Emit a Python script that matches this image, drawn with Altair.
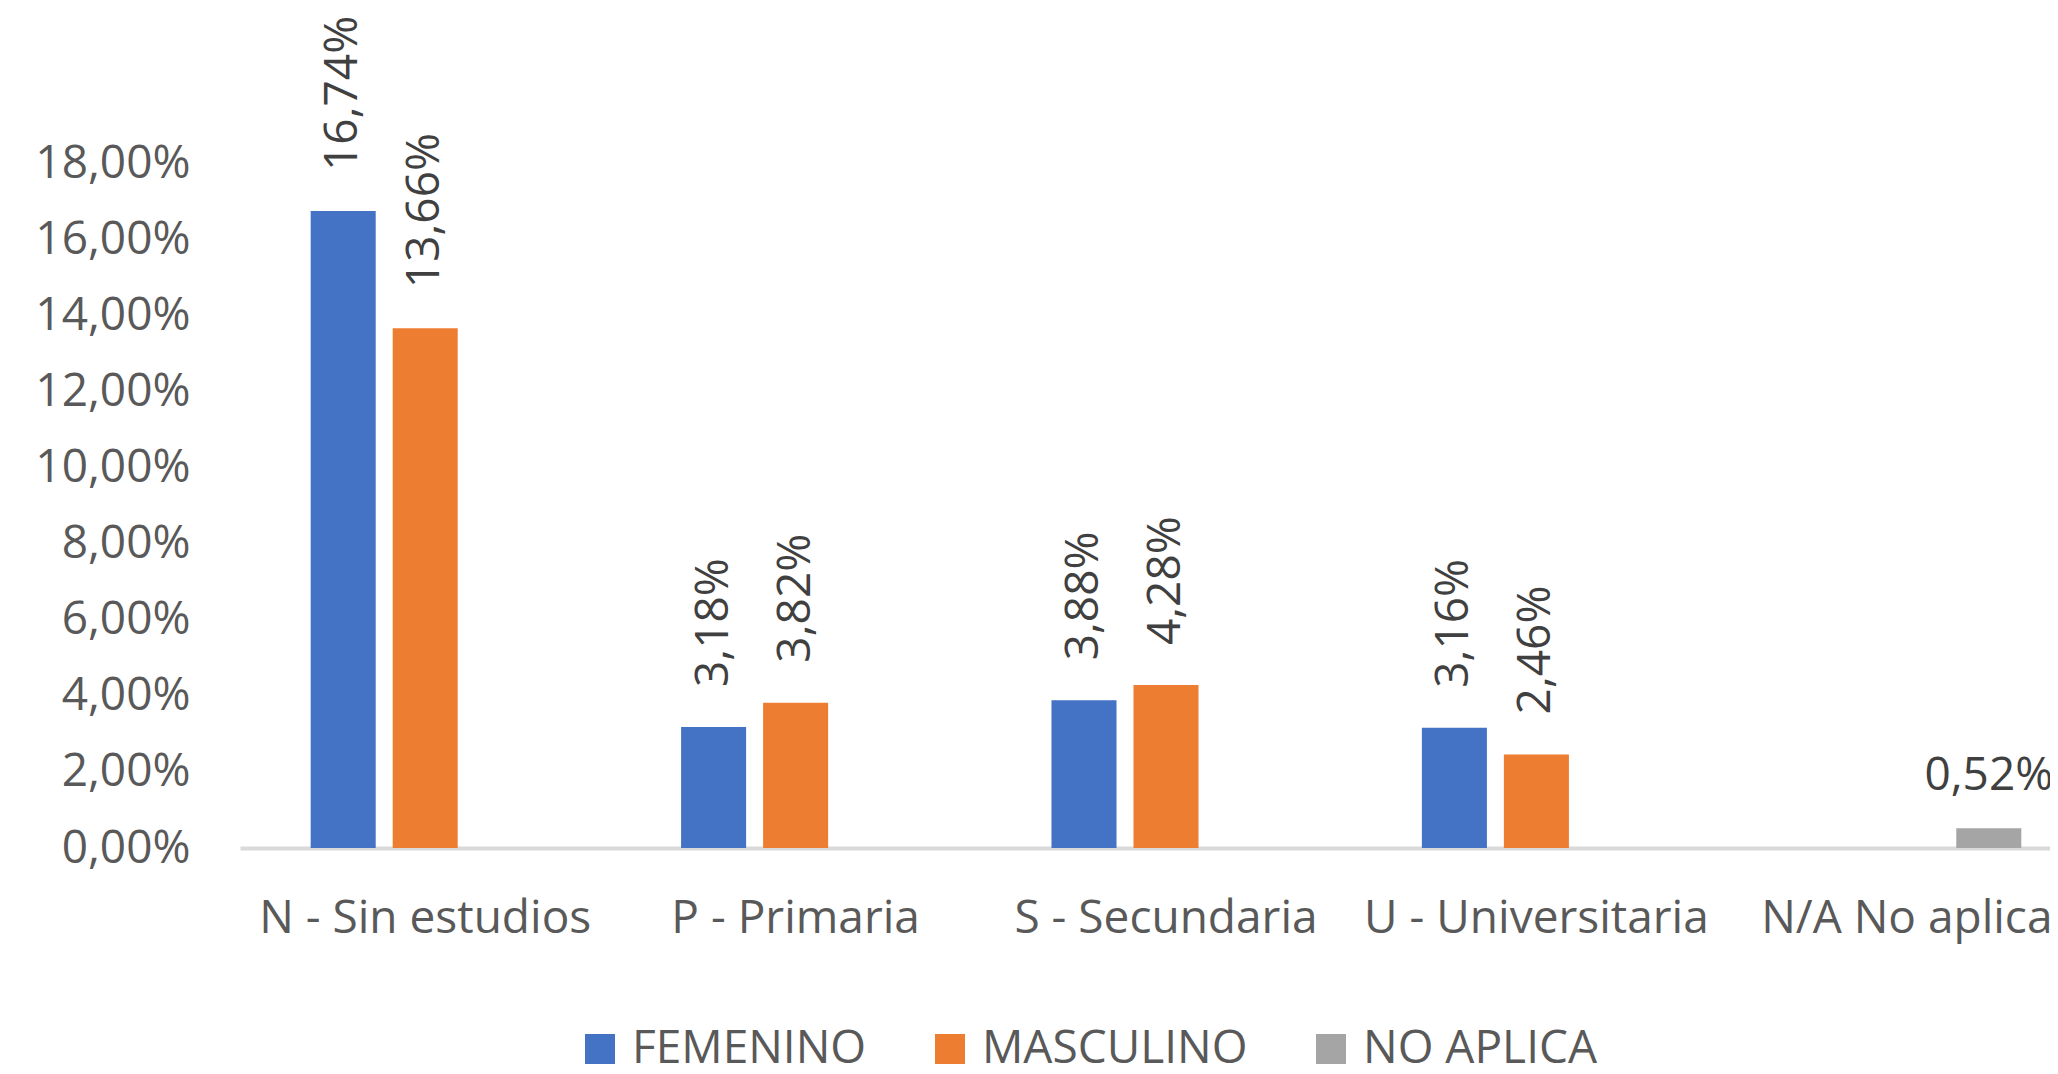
import altair as alt
import pandas as pd

categories = ["N - Sin estudios", "P - Primaria", "S - Secundaria", "U - Universitaria", "N/A No aplica"]
series = ["FEMENINO", "MASCULINO", "NO APLICA"]
femenino = [0.1674, 0.0318, 0.0388, 0.0316, None]
masculino = [0.1366, 0.0382, 0.0428, 0.0246, None]
no_aplica = [None, None, None, None, 0.0052]
colors = ["#4472C4", "#ED7D31", "#A5A5A5"]
y_ticks = [0.0, 0.02, 0.04, 0.06, 0.08, 0.10, 0.12, 0.14, 0.16, 0.18]

rows = []
for s, vals in zip(series, [femenino, masculino, no_aplica]):
    for c, v in zip(categories, vals):
        if v is not None:
            rows.append({"categoria": c, "serie": s, "valor": v})
df = pd.DataFrame(rows)

FONT = "Open Sans"
FS = 46

x_enc = alt.X(
    "categoria:N",
    sort=categories,
    scale=alt.Scale(domain=categories, range=[0, 1852], paddingInner=0, paddingOuter=0),
    axis=alt.Axis(
        title=None, labelAngle=0, labelFontSize=FS, labelFont=FONT, labelColor="#595959",
        labelPadding=48, ticks=False, domainColor="#D9D9D9", domainWidth=4,
        labelLimit=0, labelOverlap=False, labelBound=False,
    ),
)
xoff_enc = alt.XOffset(
    "serie:N",
    scale=alt.Scale(domain=series, paddingInner=0.207, paddingOuter=0.862),
)
y_enc = alt.Y(
    "valor:Q",
    scale=alt.Scale(domain=[0, 0.18]),
    axis=alt.Axis(
        title=None, values=y_ticks,
        labelExpr="replace(format(datum.value, '.2%'), '.', ',')",
        grid=False, domain=False, ticks=False,
        labelFontSize=FS, labelFont=FONT, labelColor="#595959", labelPadding=50,
    ),
)

base = alt.Chart(df)

bars = base.mark_bar().encode(
    x=x_enc,
    xOffset=xoff_enc,
    y=y_enc,
    color=alt.Color(
        "serie:N",
        scale=alt.Scale(domain=series, range=colors),
        legend=alt.Legend(
            orient="none", legendX=337, legendY=863, direction="horizontal",
            title=None, symbolType="square", symbolSize=900, symbolStrokeWidth=0,
            labelFontSize=FS, labelFont=FONT, labelColor="#595959",
            labelOffset=9, columnPadding=60, padding=0, labelLimit=0,
        ),
    ),
)

rot_labels = base.transform_filter(
    "datum.serie != 'NO APLICA'"
).transform_calculate(
    etiqueta="replace(format(datum.valor, '.2%'), '.', ',')"
).mark_text(
    angle=270, align="left", baseline="middle", dx=40,
    font=FONT, fontSize=FS, color="#404040",
).encode(x=x_enc, xOffset=xoff_enc, y=y_enc, text="etiqueta:N")

flat_labels = base.transform_filter(
    "datum.serie == 'NO APLICA'"
).transform_calculate(
    etiqueta="replace(format(datum.valor, '.2%'), '.', ',')"
).mark_text(
    align="center", baseline="alphabetic", dy=-38,
    font=FONT, fontSize=FS, color="#404040",
).encode(x=x_enc, xOffset=xoff_enc, y=y_enc, text="etiqueta:N")

chart = alt.layer(bars, rot_labels, flat_labels).properties(
    width=1810,
    height=685,
    autosize=alt.AutoSizeParams(type="none"),
    padding={"left": 232, "top": 155, "right": 0, "bottom": 218},
    background="white",
).configure_view(stroke=None)

chart.save("out.html", embed_options={"renderer": "svg", "actions": False})
